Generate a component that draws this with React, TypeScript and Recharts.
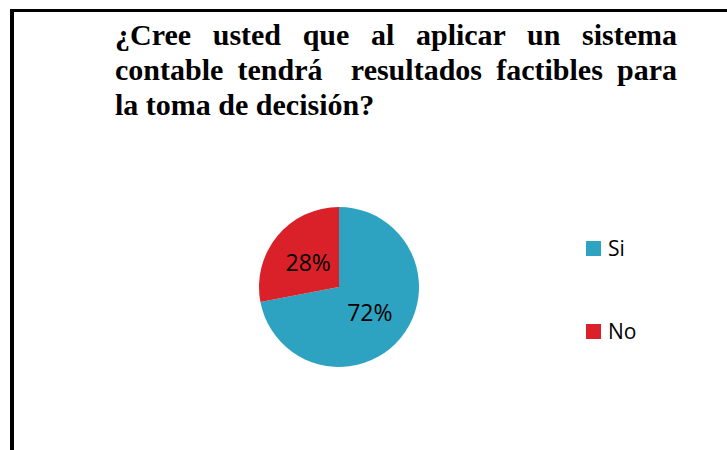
import React from 'react';
import { PieChart, Pie, Cell, Legend } from 'recharts';

const categories = ['Si', 'No'];
const shares = [72, 28];
const colors = ['#2EA3C1', '#DA2029'];
const titleLines = [
    '¿Cree usted que al aplicar un sistema',
    'contable tendrá\u00a0 resultados factibles para',
    'la toma de decisión?'
];

const chartData = categories.map((name, i) => ({ name, value: shares[i], color: colors[i] }));

const RADIAN = Math.PI / 180;

const renderLabel = (props: any) => {
    const { cx, cy, midAngle, outerRadius, value } = props;
    const r = outerRadius * 0.5;
    const x = cx + r * Math.cos(-midAngle * RADIAN);
    const y = cy + r * Math.sin(-midAngle * RADIAN);
    return (
        <text x={x} y={y} textAnchor="middle" dominantBaseline="central" fill="#000" fontSize={23} fontFamily="'Open Sans', sans-serif">
            {`${value}%`}
        </text>
    );
};

const renderLegend = () => (
    <div>
        {chartData.map((entry, i) => (
            <div key={`leg-${i}`} style={{ display: 'flex', alignItems: 'center', height: 16, marginBottom: i === 0 ? 67 : 0 }}>
                <span style={{ width: 15, height: 15, background: entry.color, display: 'inline-block', marginRight: 7 }} />
                <span style={{ fontSize: 21, fontFamily: "'Open Sans', sans-serif", color: '#000', lineHeight: '16px' }}>{entry.name}</span>
            </div>
        ))}
    </div>
);

export default function App() {
    return (
        <div style={{ position: 'fixed', left: 0, top: 0, width: 727, height: 450, background: '#fff', overflow: 'hidden' }}>
            <div style={{ position: 'absolute', left: 10, top: 9, right: 0, bottom: 0, borderTop: '3px solid #000', borderLeft: '4px solid #000' }} />
            <div
                style={{
                    position: 'absolute',
                    left: 115,
                    top: 17,
                    width: 562,
                    fontFamily: '"Times New Roman", "Liberation Serif", Times, serif',
                    fontWeight: 700,
                    fontSize: 30,
                    lineHeight: '35px',
                    color: '#000'
                }}
            >
                {titleLines.map((line, i) => (
                    <div
                        key={`t-${i}`}
                        style={{ whiteSpace: 'pre', textAlign: i < titleLines.length - 1 ? 'justify' : 'left', textAlignLast: i < titleLines.length - 1 ? 'justify' : 'left' }}
                    >
                        {line}
                    </div>
                ))}
            </div>
            <PieChart width={727} height={450} style={{ position: 'absolute', left: 0, top: 0 }}>
                <Pie
                    data={chartData}
                    dataKey="value"
                    nameKey="name"
                    cx={334}
                    cy={282}
                    outerRadius={80}
                    startAngle={90}
                    endAngle={-270}
                    stroke="none"
                    labelLine={false}
                    label={renderLabel}
                    isAnimationActive={false}
                >
                    {chartData.map((entry, index) => (
                        <Cell key={`cell-${index}`} fill={entry.color} />
                    ))}
                </Pie>
                <Legend
                    layout="vertical"
                    content={renderLegend}
                    wrapperStyle={{ position: 'absolute', left: 586, top: 240, width: 100 }}
                />
            </PieChart>
        </div>
    );
}
